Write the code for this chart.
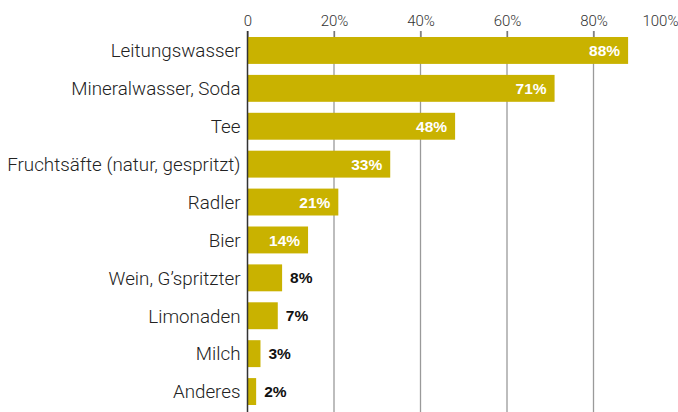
<!DOCTYPE html>
<html>
<head>
<meta charset="utf-8">
<script src="https://cdn.jsdelivr.net/npm/d3@7"></script>
<style>
  body { margin: 0; background: #fff; }
  svg { display: block; font-family: Roboto, "Liberation Sans", Arial, sans-serif; }
</style>
</head>
<body>
<div id="chart"></div>
<script>
// Data
var categories = [
	"Leitungswasser",
	"Mineralwasser, Soda",
	"Tee",
	"Fruchtsäfte (natur, gespritzt)",
	"Radler",
	"Bier",
	"Wein, G’spritzter",
	"Limonaden",
	"Milch",
	"Anderes",
];
var values = [88, 71, 48, 33, 21, 14, 8, 7, 3, 2];
var tickValues = [0, 20, 40, 60, 80, 100];

var width = 678,
	height = 412;
var marginLeft = 247.5,
	marginRight = -2,
	marginTop = 31,
	barTop = 37;

var svg = d3
	.select("#chart")
	.append("svg")
	.attr("width", width)
	.attr("height", height);

var x = d3
	.scaleLinear()
	.domain([0, 100])
	.range([marginLeft, width - marginRight]);

var y = d3
	.scaleBand()
	.domain(categories)
	.range([barTop - 5.5, barTop - 5.5 + categories.length * 37.9])
	.paddingInner(0.29)
	.paddingOuter(0.145);

// grid lines
svg
	.append("g")
	.selectAll("line")
	.data(tickValues.filter((d) => d > 0 && d < 100))
	.join("line")
	.attr("x1", (d) => x(d))
	.attr("x2", (d) => x(d))
	.attr("y1", marginTop)
	.attr("y2", height)
	.attr("stroke", "#9a9a9a")
	.attr("stroke-width", 1.3);

// top axis
svg
	.append("g")
	.attr("transform", `translate(0,${marginTop + 6})`)
	.call(
		d3
			.axisTop(x)
			.tickValues(tickValues)
			.tickSize(6)
			.tickPadding(5)
			.tickFormat((d) => (d === 0 ? "0" : d + "%"))
	)
	.call((g) => g.select(".domain").remove())
	.call((g) => g.selectAll(".tick line").attr("stroke", "#777").attr("stroke-width", 1.3))
	.call((g) =>
		g
			.selectAll(".tick text")
			.attr("fill", "#333")
			.attr("font-size", 15)
			.attr("font-weight", 300)
			.attr("font-family", "Roboto, Liberation Sans, Arial, sans-serif")
			.attr("text-anchor", (d) => (d === 100 ? "end" : "middle"))
			.attr("dx", (d) => (d === 100 ? -2 : 0))
	);

// bars
svg
	.append("g")
	.selectAll("rect")
	.data(values)
	.join("rect")
	.attr("x", x(0))
	.attr("y", (d, i) => y(categories[i]))
	.attr("width", (d) => x(d) - x(0))
	.attr("height", y.bandwidth())
	.attr("fill", "#c9b200");

// zero line
svg
	.append("line")
	.attr("x1", x(0))
	.attr("x2", x(0))
	.attr("y1", marginTop)
	.attr("y2", height)
	.attr("stroke", "#333")
	.attr("stroke-width", 1.5);

// category labels
svg
	.append("g")
	.selectAll("text")
	.data(categories)
	.join("text")
	.attr("x", x(0) - 7)
	.attr("y", (d) => y(d) + y.bandwidth() / 2)
	.attr("dy", "0.36em")
	.attr("text-anchor", "end")
	.attr("font-size", 18.8)
	.attr("font-weight", 300)
	.attr("fill", "#222")
	.text((d) => d);

// value labels
svg
	.append("g")
	.selectAll("text")
	.data(values)
	.join("text")
	.attr("x", (d) => (d > 10 ? x(d) - 8 : x(d) + 8))
	.attr("y", (d, i) => y(categories[i]) + y.bandwidth() / 2)
	.attr("dy", "0.36em")
	.attr("text-anchor", (d) => (d > 10 ? "end" : "start"))
	.attr("font-size", 15.5)
	.attr("font-weight", "bold")
	.attr("font-family", "Liberation Sans, Arial, sans-serif")
	.attr("fill", (d) => (d > 10 ? "#fff" : "#111"))
	.text((d) => d + "%");
</script>
</body>
</html>
